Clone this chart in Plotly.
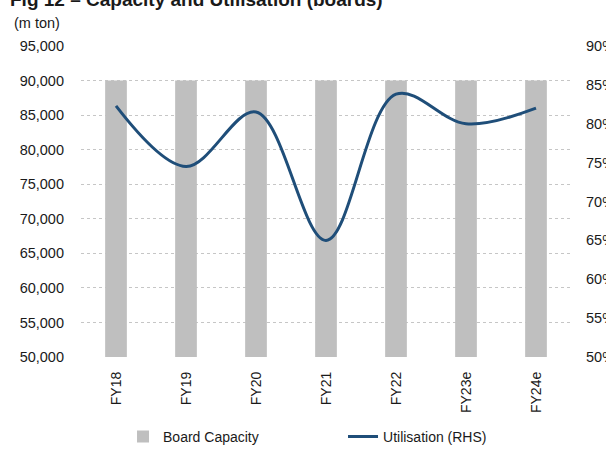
import plotly.graph_objects as go

# Board capacity (m ton) and utilisation (%, right-hand scale)
years = ["FY18", "FY19", "FY20", "FY21", "FY22", "FY23e", "FY24e"]
capacity = [90000, 90000, 90000, 90000, 90000, 90000, 90000]
utilisation = [82.3, 74.5, 81.5, 65.0, 83.8, 80.0, 82.0]

left_ticks = list(range(50000, 95001, 5000))
right_ticks = list(range(50, 91, 5))

FONT = "Liberation Sans, Arial, sans-serif"
GRID = "#c6c6c6"
INK = "#1a1a1a"

fig = go.Figure()
fig.add_trace(go.Bar(
    x=years, y=capacity, name="Board Capacity",
    marker=dict(color="#bfbfbf", line=dict(width=0)),
    width=0.31, yaxis="y",
))
fig.add_trace(go.Scatter(
    x=years, y=utilisation, name="Utilisation (RHS)",
    mode="lines", line=dict(color="#1f4e79", width=3, shape="spline", smoothing=1.0),
    yaxis="y2",
))

fig.update_layout(
    width=606, height=455,
    margin=dict(l=81, r=35, t=46, b=98, autoexpand=False),
    paper_bgcolor="white", plot_bgcolor="white",
    font=dict(family=FONT, size=14.5, color=INK),
    xaxis=dict(
        type="category", tickangle=-90, showgrid=False, showline=False,
        ticks="", ticklabelstandoff=11, zeroline=False, automargin=False,
        tickfont=dict(size=14),
    ),
    yaxis=dict(
        range=[50000, 95000], tickvals=left_ticks,
        ticktext=[f"{v:,}" for v in left_ticks],
        showgrid=True, gridcolor=GRID, griddash="dot", gridwidth=1,
        zeroline=False, showline=False, ticks="", ticklabelstandoff=16,
        automargin=False,
    ),
    yaxis2=dict(
        range=[50, 90], tickvals=right_ticks,
        ticktext=[f"{v}%" for v in right_ticks],
        overlaying="y", side="right", showgrid=False,
        zeroline=False, showline=False, ticks="", ticklabelstandoff=14,
        automargin=False,
    ),
    showlegend=True,
    legend=dict(
        orientation="h", xref="container", yref="container",
        x=0.203, y=0.04, xanchor="left", yanchor="middle",
        entrywidth=175, entrywidthmode="pixels",
        font=dict(size=14), bgcolor="rgba(0,0,0,0)",
    ),
    annotations=[
        dict(text="<b>Fig 12 – Capacity and Utilisation (boards)</b>",
             xref="paper", yref="paper", x=-0.149, y=1.148,
             xanchor="left", yanchor="middle", showarrow=False,
             font=dict(size=19, color=INK)),
        dict(text="(m ton)", xref="paper", yref="paper", x=-0.14, y=1.074,
             xanchor="left", yanchor="middle", showarrow=False,
             font=dict(size=14.5, color=INK)),
    ],
)

fig.write_html("out.html")
